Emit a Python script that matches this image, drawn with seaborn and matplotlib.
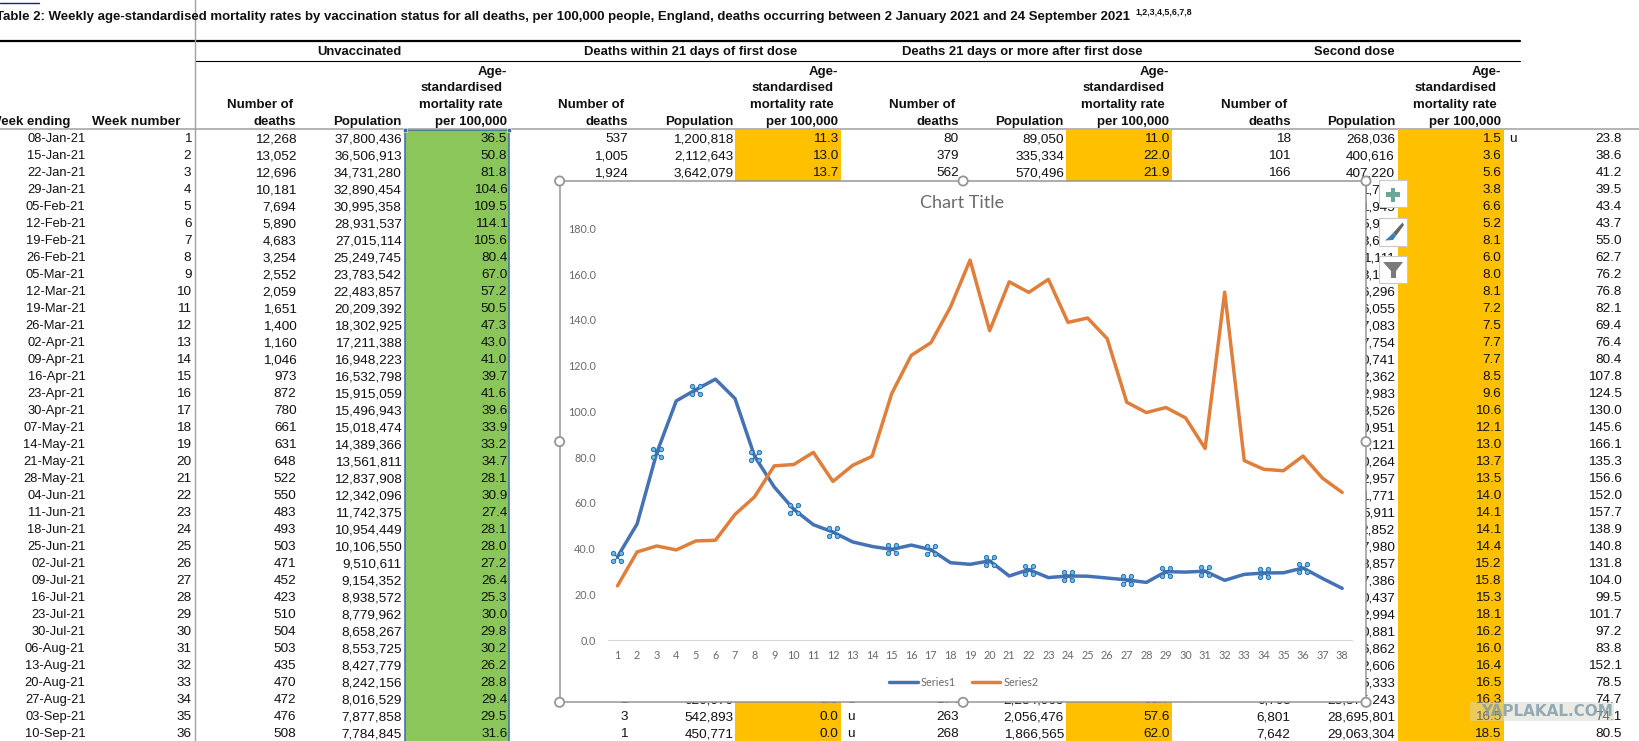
import matplotlib
matplotlib.use("Agg")
import matplotlib.pyplot as plt
from matplotlib.patches import Rectangle, Circle, Polygon
from matplotlib.path import Path
import numpy as np
import pandas as pd
import seaborn as sns

# ---------- data ----------
week_ending = ["08-Jan-21","15-Jan-21","22-Jan-21","29-Jan-21","05-Feb-21","12-Feb-21","19-Feb-21","26-Feb-21",
               "05-Mar-21","12-Mar-21","19-Mar-21","26-Mar-21","02-Apr-21","09-Apr-21","16-Apr-21","23-Apr-21",
               "30-Apr-21","07-May-21","14-May-21","21-May-21","28-May-21","04-Jun-21","11-Jun-21","18-Jun-21",
               "25-Jun-21","02-Jul-21","09-Jul-21","16-Jul-21","23-Jul-21","30-Jul-21","06-Aug-21","13-Aug-21",
               "20-Aug-21","27-Aug-21","03-Sep-21","10-Sep-21"]
unvax_deaths = [12268,13052,12696,10181,7694,5890,4683,3254,2552,2059,1651,1400,1160,1046,973,872,780,661,631,648,
                522,550,483,493,503,471,452,423,510,504,503,435,470,472,476,508]
unvax_pop = [37800436,36506913,34731280,32890454,30995358,28931537,27015114,25249745,23783542,22483857,20209392,
             18302925,17211388,16948223,16532798,15915059,15496943,15018474,14389366,13561811,12837908,12342096,
             11742375,10954449,10106550,9510611,9154352,8938572,8779962,8658267,8553725,8427779,8242156,8016529,
             7877858,7784845]
unvax_rate = [36.5,50.8,81.8,104.6,109.5,114.1,105.6,80.4,67.0,57.2,50.5,47.3,43.0,41.0,39.7,41.6,39.6,33.9,33.2,
              34.7,28.1,30.9,27.4,28.1,28.0,27.2,26.4,25.3,30.0,29.8,30.2,26.2,28.8,29.4,29.5,31.6]
unvax_rate_tail = [27.0, 22.7]

first_rows = [0, 1, 2]
last_rows = [33, 34, 35]
early_deaths_head = ["537","1,005","1,924"]
early_pop_head = ["1,200,818","2,112,643","3,642,079"]
early_rate_head = ["11.3","13.0","13.7"]
early_deaths_tail = ["2","3","1"]
early_pop_tail = ["626,070","542,893","450,771"]
early_rate_tail = ["0.0","0.0","0.0"]
late_deaths_head = ["80","379","562"]
late_pop_head = ["89,050","335,334","570,496"]
late_rate_head = ["11.0","22.0","21.9"]
late_deaths_tail = ["274","263","268"]
late_pop_tail = ["2,284,965","2,056,476","1,866,565"]
late_rate_tail = ["56.7","57.6","62.0"]
second_deaths_head = ["18","101","166"]
second_deaths_tail = ["6,703","6,801","7,642"]
# only the ends of these figures show beside the chart
second_pop = ["268,036","400,616","407,220","1,700","1,945","5,900","3,600","1,111","3,100","6,296","6,055","7,083",
              "7,754","0,741","2,362","2,983","8,526","0,951","7,121","0,264","2,957","1,771","5,911","2,852",
              "7,980","8,857","7,386","0,437","2,994","0,881","6,862","2,606","5,333","28,375,243","28,695,801","29,063,304"]
second_rate = [1.5,3.6,5.6,3.8,6.6,5.2,8.1,6.0,8.0,8.1,7.2,7.5,7.7,7.7,8.5,9.6,10.6,12.1,13.0,13.7,13.5,14.0,14.1,
               14.1,14.4,15.2,15.8,15.3,18.1,16.2,16.0,16.4,16.5,16.3,16.5,18.5]
series2 = [23.8,38.6,41.2,39.5,43.4,43.7,55.0,62.7,76.2,76.8,82.1,69.4,76.4,80.4,107.8,124.5,130.0,145.6,166.1,135.3,
           156.6,152.0,157.7,138.9,140.8,131.8,104.0,99.5,101.7,97.2,83.8,152.1,78.5,74.7,74.1,80.5]
series2_tail = [70.8, 64.6]
selected_weeks = [1,3,5,8,10,12,15,17,20,22,24,27,29,31,34,36]
group_titles = ["Unvaccinated","Deaths within 21 days of first dose","Deaths 21 days or more after first dose","Second dose"]
title_text = "Table 2: Weekly age-standardised mortality rates by vaccination status for all deaths, per 100,000 people, England, deaths occurring between 2 January 2021 and 24 September 2021"

# ---------- page ----------
W, H = 1639, 741
sns.set_theme(style="white")
plt.rcParams["font.family"] = ["Liberation Sans", "DejaVu Sans"]
fig = plt.figure(figsize=(W/100, H/100), dpi=100, facecolor="white")
base = fig.add_axes([0, 0, 1, 1], zorder=1)
base.set_xlim(0, W); base.set_ylim(H, 0); base.axis("off")

FS = 9.7
FS_HEAD = 9.5
FS_GROUP = 9.35
FS_DATE = 9.3
DY = 0.9
ORANGE, GREEN, BLUE_SEL = "#FFC000", "#8AC65A", "#3A6BA5"
def row_y(i): return 138.3 + 17*i
def cell(x, y, s, ha="right", **kw):
    base.text(x, y+DY, s, ha=ha, va="center", fontsize=kw.pop("fontsize", FS), color=kw.pop("color", "#111111"), **kw)
def head(x, y, s):
    cell(x, y, s, fontweight="bold", fontsize=FS_HEAD)

# filled columns
for x0, x1, col in [(405.3, 509, GREEN), (734.8, 841, ORANGE), (1066.3, 1172, ORANGE), (1398, 1503.6, ORANGE)]:
    base.add_patch(Rectangle((x0, 130), x1-x0, H-130, fc=col, ec="none", zorder=0))
base.plot([405, 405], [130, H], color=BLUE_SEL, lw=1.1)
base.plot([509, 509], [130, H], color=BLUE_SEL, lw=1.1)
base.plot([405, 509], [130, 130], color=BLUE_SEL, lw=1.1)
for x in (405, 509):
    base.add_patch(Rectangle((x-2, 127.5), 4, 4, fc=BLUE_SEL, ec="white", lw=.4, zorder=4))

# rules
base.plot([0, 1520], [41, 41], color="black", lw=1.6)
base.plot([194.6, 1520], [61.3, 61.3], color="black", lw=0.8)
base.plot([0, W], [129.3, 129.3], color="#a0a0a0", lw=1.1)
base.plot([194.6, 194.6], [0, H], color="#a0a0a0", lw=1.0)

# link and title
base.plot([0, 39], [2.6, 2.6], color="#1a1a9a", lw=1.0)
base.text(-1, 1, "Contents", ha="left", va="bottom", fontsize=FS, color="#1a1a9a")
base.text(1130, 17, title_text, ha="right", va="center", fontsize=9.55, fontweight="bold", color="#111111")
base.text(1135, 12, "1,2,3,4,5,6,7,8", ha="left", va="center", fontsize=6.3, fontweight="bold", color="#111111")

# group headings
for xc, t in zip([359.8, 691, 1022, 1354], group_titles):
    cell(xc, 51.3, t, ha="center", fontweight="bold", fontsize=FS_GROUP)

# column headings
def headers(deaths_r, pop_r, rate_r):
    head(deaths_r-3.5, 104.3, "Number of")
    head(deaths_r, 121.3, "deaths")
    head(pop_r, 121.3, "Population")
    head(rate_r, 70.7, "Age-")
    head(rate_r-4.5, 87.3, "standardised")
    head(rate_r-4.5, 104.3, "mortality rate")
    head(rate_r, 121.3, "per 100,000")
head(70.6, 121.3, "Week ending")
cell(181, 121.3, "Week number", fontweight="bold", fontsize=FS)
headers(296.5, 401.7, 507.3)
headers(627.6, 733.3, 838.3)
headers(959, 1064, 1169.4)
headers(1290.7, 1395, 1501)

# rows
for i, w in enumerate(week_ending):
    y = row_y(i)
    cell(85.5, y, w, fontsize=FS_DATE)
    cell(191.4, y, str(i+1))
    cell(296.5, y, f"{unvax_deaths[i]:,}")
    cell(401.7, y, f"{unvax_pop[i]:,}")
    cell(507.3, y, f"{unvax_rate[i]:.1f}")
    cell(1395, y, second_pop[i])
    cell(1501, y, f"{second_rate[i]:.1f}")
    cell(1621.8, y, f"{series2[i]:.1f}")
for k, i in enumerate(first_rows):
    y = row_y(i)
    cell(627.6, y, early_deaths_head[k]); cell(733.3, y, early_pop_head[k]); cell(838.3, y, early_rate_head[k])
    cell(959, y, late_deaths_head[k]); cell(1064, y, late_pop_head[k]); cell(1169.4, y, late_rate_head[k])
    cell(1290.7, y, second_deaths_head[k])
for k, i in enumerate(last_rows):
    y = row_y(i)
    cell(627.6, y, early_deaths_tail[k]); cell(733.3, y, early_pop_tail[k]); cell(838.3, y, early_rate_tail[k])
    cell(847, y, "u", ha="left")
    cell(959, y, late_deaths_tail[k]); cell(1064, y, late_pop_tail[k]); cell(1169.4, y, late_rate_tail[k])
    cell(1290.7, y, second_deaths_tail[k])
cell(1509, row_y(0), "u", ha="left")

# ---------- chart ----------
CL, CR, CT, CB = 559.6, 1366, 181, 702.3
base.add_patch(Rectangle((CL, CT), CR-CL, CB-CT, fc="white", ec="#969696", lw=1.1, zorder=5))

PL, PR, PT, PB = 607.7, 1352, 228.3, 640.3
ax = fig.add_axes([PL/W, 1-PB/H, (PR-PL)/W, (PB-PT)/H], zorder=2)
ax.patch.set_alpha(0)
weeks = list(range(1, 39))
df = pd.DataFrame({
    "week": weeks + weeks,
    "rate": unvax_rate + unvax_rate_tail + series2 + series2_tail,
    "series": ["Series1"]*38 + ["Series2"]*38,
})
sns.lineplot(data=df, x="week", y="rate", hue="series", palette=["#4472B4", "#E07F3C"],
             linewidth=2.5, errorbar=None, ax=ax)
for ln in ax.get_lines():
    ln.set_solid_joinstyle("round"); ln.set_solid_capstyle("round")

# selection handles on the Series1 points
R = 0.55
rings = Path.make_compound_path(*[Path(Path.circle((sx, sy), R).vertices, Path.circle((sx, sy), R).codes)
                                  for sx in (-1, 1) for sy in (-1, 1)])
sel = df[(df.series == "Series1") & (df.week.isin(selected_weeks))]
ax.plot(sel.week, sel.rate, ls="none", marker="x", ms=5.6, mec="#2F6FB0", mew=0.8, zorder=5)
ax.plot(sel.week, sel.rate, ls="none", marker=rings, ms=8.8, mfc="#62BCEC", mec="#2F6FB0", mew=0.7, zorder=6)

ax.set_xlim(0.5, 38.5); ax.set_ylim(0, 180)
ax.set_xticks(weeks); ax.set_xticklabels([str(v) for v in weeks])
yt = list(range(0, 181, 20))
ax.set_yticks(yt); ax.set_yticklabels([f"{v:.1f}" for v in yt])
ax.set_xlabel(""); ax.set_ylabel("")
CFONT = "Lato"
ax.tick_params(axis="both", length=0, labelcolor="#6a6a6a", labelsize=7.8)
ax.tick_params(axis="x", pad=7.2); ax.tick_params(axis="y", pad=8.4)
for lab in ax.get_xticklabels() + ax.get_yticklabels():
    lab.set_fontfamily(CFONT)
ax.grid(False)
for s in ("top", "right", "left"):
    ax.spines[s].set_visible(False)
ax.spines["bottom"].set_color("#d9d9d9"); ax.spines["bottom"].set_linewidth(0.8)
leg = ax.legend(loc="center", bbox_to_anchor=(964/W, 1-682/H), bbox_transform=fig.transFigure, ncol=2, frameon=False,
                title=None, handlelength=2.6, handletextpad=0.3, columnspacing=1.5,
                prop={"family": CFONT, "size": 7.8})
for t in leg.get_texts():
    t.set_color("#6a6a6a")
for ln in leg.get_lines():
    ln.set_linewidth(2.5)

# ---------- overlay: handles, buttons, watermark ----------
top = fig.add_axes([0, 0, 1, 1], zorder=3)
top.set_xlim(0, W); top.set_ylim(H, 0); top.axis("off"); top.patch.set_alpha(0)
top.text(962, 202.5, "Chart Title", ha="center", va="center", fontsize=13, family=CFONT, color="#6a6a6a")
MX, MY = (CL+CR)/2+0.3, (CT+CB)/2
for hx, hy in [(CL,CT),(MX,CT),(CR,CT),(CL,MY),(CR,MY),(CL,CB),(MX,CB),(CR,CB)]:
    top.add_patch(Circle((hx, hy), 4.6, fc="white", ec="#969696", lw=1.3))
for y0, y1 in [(180, 207.3), (218.3, 245.7), (256, 283.3)]:
    top.add_patch(Rectangle((1379.3, y0), 27.4, y1-y0, fc="white", ec="#c8c8c8", lw=0.8))
# plus
top.add_patch(Rectangle((1386, 192.3), 14, 4.6, fc="#69A898", ec="none"))
top.add_patch(Rectangle((1390.7, 188), 4.6, 14, fc="#69A898", ec="none"))
# brush
top.add_patch(Polygon([(1402.5,222.5),(1404,225),(1396,236),(1393,233)], fc="#666666", ec="none"))
top.add_patch(Polygon([(1393,233),(1396,236),(1393,240),(1385,240.5),(1389,237)], fc="#3D7DBE", ec="none"))
# funnel
top.add_patch(Polygon([(1383,262),(1403,262),(1396,271),(1396,278),(1391,278),(1391,271)], fc="#7a7a7a", ec="none"))
# watermark
top.add_patch(Rectangle((1470, 702), 144, 18.7, fc="#d4d4c8", ec="none", alpha=0.45))
top.text(1547, 711.7, "YAPLAKAL.COM", ha="center", va="center", fontsize=11, fontweight="bold",
         family="DejaVu Sans", color="#7d9aa6", alpha=0.8)

fig.savefig("out.png", dpi=100, facecolor="white")
